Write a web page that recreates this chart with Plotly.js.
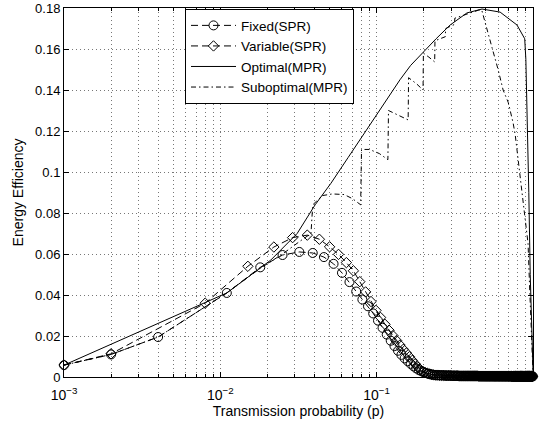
<!DOCTYPE html>
<html>
<head>
<meta charset="utf-8">
<script src="https://cdn.plot.ly/plotly-3.0.1.min.js"></script>
<style>html,body{margin:0;padding:0;background:#fff;}#chart{width:542px;height:428px;}</style>
</head>
<body>
<div id="chart"></div>
<script>
// ---------- data ----------
// Fixed (SPR) – circle markers
var fixedHeadP = [0.001, 0.002, 0.004, 0.011, 0.018, 0.025, 0.032, 0.039, 0.046, 0.053, 0.060, 0.067, 0.074, 0.081, 0.088, 0.095, 0.102, 0.109, 0.116, 0.123, 0.130, 0.137, 0.144, 0.151, 0.158, 0.165, 0.172, 0.179, 0.186, 0.193, 0.200, 0.207, 0.214, 0.221, 0.228, 0.235];
var fixedHeadE = [0.0058, 0.011, 0.0195, 0.041, 0.0535, 0.0595, 0.061, 0.0605, 0.0585, 0.0552, 0.0508, 0.0463, 0.0417, 0.0378, 0.0345, 0.031, 0.0275, 0.024, 0.0207, 0.0177, 0.0151, 0.0128, 0.0108, 0.0091, 0.0077, 0.0064, 0.0052, 0.0042, 0.0034, 0.0028, 0.0023, 0.0019, 0.0016, 0.0013, 0.0011, 0.0010];
var fixedTailP = [0.242,0.249,0.256,0.263,0.270,0.277,0.284,0.291,0.298,0.305,0.312,0.319,0.326,0.333,0.340,0.347,0.354,0.361,0.368,0.375,0.382,0.389,0.396,0.403,0.410,0.417,0.424,0.431,0.438,0.445,0.452,0.459,0.466,0.473,0.480,0.487,0.494,0.501,0.508,0.515,0.522,0.529,0.536,0.543,0.550,0.557,0.564,0.571,0.578,0.585,0.592,0.599,0.606,0.613,0.620,0.627,0.634,0.641,0.648,0.655,0.662,0.669,0.676,0.683,0.690,0.697,0.704,0.711,0.718,0.725,0.732,0.739,0.746,0.753,0.760,0.767,0.774,0.781,0.788,0.795,0.802,0.809,0.816,0.823,0.830,0.837,0.844,0.851,0.858,0.865,0.872,0.879,0.886,0.893,0.900,0.907,0.914,0.921,0.928,0.935,0.942,0.949,0.956,0.963,0.970,0.977,0.984,0.991,0.998];
var fixedTailE = [0.0009,0.0009,0.0008,0.0008,0.0008,0.0007,0.0007,0.0007,0.0007,0.0006,
  0.0006,0.0006,0.0006,0.0006,0.0005,0.0005,0.0005,0.0005,0.0005,0.0005,
  0.0005,0.0005,0.0005,0.0005,0.0005,0.0005,0.0005,0.0005,0.0005,0.0005,
  0.0004,0.0004,0.0004,0.0004,0.0004,0.0004,0.0004,0.0004,0.0004,0.0004,
  0.0004,0.0004,0.0004,0.0004,0.0004,0.0004,0.0004,0.0004,0.0004,0.0004,
  0.0004,0.0004,0.0004,0.0004,0.0004,0.0004,0.0004,0.0004,0.0004,0.0004,
  0.0004,0.0004,0.0004,0.0004,0.0004,0.0004,0.0004,0.0004,0.0004,0.0004,
  0.0003,0.0003,0.0003,0.0003,0.0003,0.0003,0.0003,0.0003,0.0003,0.0003,
  0.0003,0.0003,0.0003,0.0003,0.0003,0.0003,0.0003,0.0003,0.0003,0.0003,
  0.0003,0.0003,0.0003,0.0003,0.0003,0.0003,0.0003,0.0003,0.0003,0.0003,
  0.0003,0.0003,0.0003,0.0003,0.0003,0.0003,0.0003,0.0003,0.0003];

// Variable (SPR) – diamond markers
var varHeadP = [0.001, 0.002, 0.008, 0.015, 0.022, 0.029, 0.036, 0.043, 0.050, 0.057, 0.064, 0.071, 0.078, 0.085, 0.092, 0.099, 0.106, 0.113, 0.120, 0.127, 0.134, 0.141, 0.148, 0.155, 0.162, 0.169, 0.176, 0.183, 0.190, 0.197, 0.204, 0.211, 0.218, 0.225, 0.232];
var varHeadE = [0.0058, 0.0113, 0.036, 0.054, 0.0634, 0.068, 0.0692, 0.0672, 0.0635, 0.0598, 0.0558, 0.0518, 0.0465, 0.0415, 0.0368, 0.0325, 0.0290, 0.0257, 0.0228, 0.0202, 0.0178, 0.0156, 0.0135, 0.0117, 0.0099, 0.0081, 0.0064, 0.0049, 0.0037, 0.0028, 0.0022, 0.0018, 0.0015, 0.0012, 0.0010];
var varTailP = [0.239,0.246,0.253,0.260,0.267,0.274,0.281,0.288,0.295,0.302,0.309,0.316,0.323,0.330,0.337,0.344,0.351,0.358,0.365,0.372,0.379,0.386,0.393,0.400,0.407,0.414,0.421,0.428,0.435,0.442,0.449,0.456,0.463,0.470,0.477,0.484,0.491,0.498,0.505,0.512,0.519,0.526,0.533,0.540,0.547,0.554,0.561,0.568,0.575,0.582,0.589,0.596,0.603,0.610,0.617,0.624,0.631,0.638,0.645,0.652,0.659,0.666,0.673,0.680,0.687,0.694,0.701,0.708,0.715,0.722,0.729,0.736,0.743,0.750,0.757,0.764,0.771,0.778,0.785,0.792,0.799,0.806,0.813,0.820,0.827,0.834,0.841,0.848,0.855,0.862,0.869,0.876,0.883,0.890,0.897,0.904,0.911,0.918,0.925,0.932,0.939,0.946,0.953,0.960,0.967,0.974,0.981,0.988,0.995];
var varTailE = [0.0009,0.0009,0.0008,0.0008,0.0008,0.0007,0.0007,0.0007,0.0007,0.0006,
  0.0006,0.0006,0.0006,0.0006,0.0005,0.0005,0.0005,0.0005,0.0005,0.0005,
  0.0005,0.0005,0.0005,0.0005,0.0005,0.0005,0.0005,0.0005,0.0005,0.0005,
  0.0004,0.0004,0.0004,0.0004,0.0004,0.0004,0.0004,0.0004,0.0004,0.0004,
  0.0004,0.0004,0.0004,0.0004,0.0004,0.0004,0.0004,0.0004,0.0004,0.0004,
  0.0004,0.0004,0.0004,0.0004,0.0004,0.0004,0.0004,0.0004,0.0004,0.0004,
  0.0004,0.0004,0.0004,0.0004,0.0004,0.0004,0.0004,0.0004,0.0004,0.0004,
  0.0003,0.0003,0.0003,0.0003,0.0003,0.0003,0.0003,0.0003,0.0003,0.0003,
  0.0003,0.0003,0.0003,0.0003,0.0003,0.0003,0.0003,0.0003,0.0003,0.0003,
  0.0003,0.0003,0.0003,0.0003,0.0003,0.0003,0.0003,0.0003,0.0003,0.0003,
  0.0003,0.0003,0.0003,0.0003,0.0003,0.0003,0.0003,0.0003,0.0003];

// Optimal (MPR) – solid line
var optP = [0.001, 0.011, 0.021, 0.031, 0.0404, 0.051, 0.0656, 0.0948, 0.12, 0.141, 0.165, 0.198, 0.24, 0.295, 0.378, 0.472, 0.616, 0.79, 0.86, 0.885, 0.9, 0.92, 0.94, 0.96, 0.98, 1.0];
var optE = [0.0058, 0.041, 0.057, 0.070, 0.084, 0.0945, 0.107, 0.1254, 0.137, 0.145, 0.152, 0.1585, 0.165, 0.1717, 0.1776, 0.1795, 0.178, 0.1717, 0.167, 0.165, 0.155, 0.125, 0.09, 0.05, 0.02, 0.003];

// Suboptimal (MPR) – dash-dot line
var subP = [0.001, 0.002, 0.004, 0.008, 0.011, 0.018, 0.025, 0.032, 0.038, 0.039, 0.045, 0.052, 0.062, 0.070, 0.079, 0.080, 0.090, 0.104, 0.118, 0.119, 0.135, 0.159, 0.160, 0.180, 0.198, 0.199, 0.216, 0.235, 0.236, 0.255, 0.275, 0.276, 0.30, 0.315, 0.316, 0.36, 0.40, 0.45, 0.47, 0.50, 0.516, 0.55, 0.598, 0.644, 0.694, 0.746, 0.77, 0.80, 0.836, 0.86, 0.90, 0.93, 0.95, 0.97, 0.99, 1.0];
var subE = [0.0058, 0.011, 0.0195, 0.034, 0.041, 0.053, 0.060, 0.066, 0.070, 0.084, 0.0885, 0.0893, 0.089, 0.087, 0.084, 0.111, 0.111, 0.109, 0.106, 0.130, 0.128, 0.1254, 0.146, 0.143, 0.140, 0.158, 0.156, 0.1537, 0.164, 0.165, 0.166, 0.170, 0.1715, 0.172, 0.175, 0.1765, 0.1775, 0.179, 0.179, 0.172, 0.168, 0.160, 0.150, 0.140, 0.134, 0.124, 0.118, 0.107, 0.096, 0.087, 0.0756, 0.065, 0.045, 0.025, 0.008, 0.002];

var seriesNames = ['Fixed(SPR)', 'Variable(SPR)', 'Optimal(MPR)', 'Suboptimal(MPR)'];
var xTickVals = [0.001, 0.01, 0.1, 1];
var xTickText = ['10<sup>\u22123</sup>', '10<sup>\u22122</sup>', '10<sup>\u22121</sup>', '10<sup>0</sup>'];
var yTickVals = [0, 0.02, 0.04, 0.06, 0.08, 0.1, 0.12, 0.14, 0.16, 0.18];
var yTickText = ['0', '0.02', '0.04', '0.06', '0.08', '0.1', '0.12', '0.14', '0.16', '0.18'];

// ---------- chart ----------
var FONT = 'Liberation Sans, Arial, Helvetica, sans-serif';
var GRID = '#777';
var GDASH = '1px,3px';

var traces = [
  {
    x: fixedHeadP.concat(fixedTailP), y: fixedHeadE.concat(fixedTailE),
    name: seriesNames[0], type: 'scatter', mode: 'lines+markers', cliponaxis: false,
    line: {color: 'black', width: 1, dash: '7px,4px'},
    marker: {symbol: 'circle-open', size: 9, color: 'black', line: {color: 'black', width: 1}}
  },
  {
    x: varHeadP.concat(varTailP), y: varHeadE.concat(varTailE),
    name: seriesNames[1], type: 'scatter', mode: 'lines+markers', cliponaxis: false,
    line: {color: 'black', width: 1, dash: '7px,4px'},
    marker: {symbol: 'diamond-open', size: 8, color: 'black', line: {color: 'black', width: 1}}
  },
  {
    x: optP, y: optE, name: seriesNames[2], type: 'scatter', mode: 'lines',
    line: {color: 'black', width: 1}
  },
  {
    x: subP, y: subE, name: seriesNames[3], type: 'scatter', mode: 'lines',
    line: {color: 'black', width: 1, dash: '5px,3px,1.5px,3px'}
  }
];

var axisCommon = {
  showline: true, linecolor: 'black', linewidth: 1, mirror: 'ticks',
  ticks: 'inside', ticklen: 5, tickcolor: 'black', tickwidth: 1,
  showgrid: true, gridcolor: GRID, gridwidth: 1, griddash: GDASH,
  zeroline: false, tickfont: {family: FONT, size: 13, color: 'black'}
};

var layout = {
  width: 542, height: 428,
  margin: {l: 64, r: 9, t: 8, b: 51},
  paper_bgcolor: 'white', plot_bgcolor: 'white',
  font: {family: FONT, size: 14, color: 'black'},
  showlegend: true,
  legend: {
    x: 0.258, y: 0.997, xanchor: 'left', yanchor: 'top',
    bgcolor: 'white', bordercolor: 'black', borderwidth: 1,
    font: {family: FONT, size: 13.5, color: 'black'},
    itemwidth: 45, tracegroupgap: 0
  },
  xaxis: Object.assign({}, axisCommon, {
    type: 'log', range: [-3, 0],
    tickmode: 'array', tickvals: xTickVals, ticktext: xTickText,
    tickfont: {family: FONT, size: 14, color: 'black'},
    ticklabelstandoff: 5,
    minor: {dtick: 'D1', ticks: 'inside', ticklen: 3, tickcolor: 'black',
            showgrid: true, gridcolor: GRID, gridwidth: 1, griddash: GDASH},
    title: {text: 'Transmission probability (p)', font: {family: FONT, size: 14, color: 'black'}, standoff: 0}
  }),
  yaxis: Object.assign({}, axisCommon, {
    range: [0, 0.18], tickmode: 'array', tickvals: yTickVals, ticktext: yTickText,
    title: {text: 'Energy Efficiency', font: {family: FONT, size: 14, color: 'black'}, standoff: 8}
  })
};

Plotly.newPlot('chart', traces, layout, {displayModeBar: false, staticPlot: true});
</script>
</body>
</html>
